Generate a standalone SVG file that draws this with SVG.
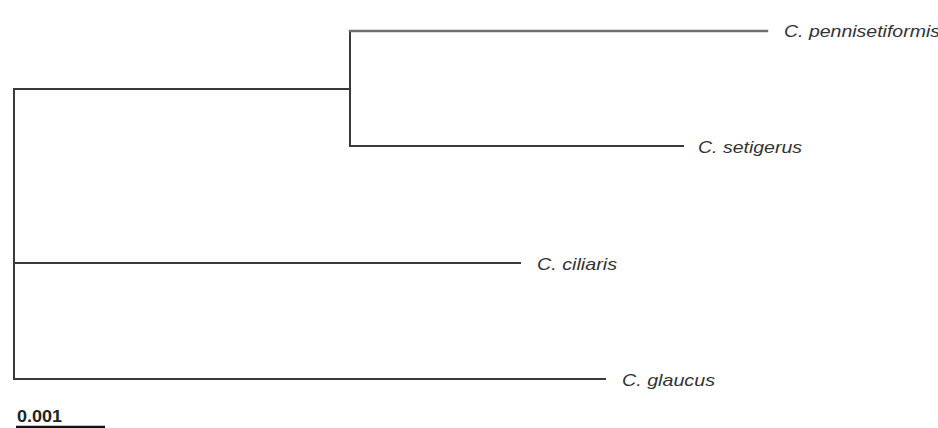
<svg xmlns="http://www.w3.org/2000/svg" width="938" height="428" viewBox="0 0 938 428">
  <style>
    .branch { stroke: #3a3a3a; stroke-width: 2; fill: none; stroke-linecap: square; }
    .light { stroke: #6e6e6e; stroke-width: 2.4; }
    .taxon { font-family: "Liberation Sans", Arial, sans-serif; font-style: italic; font-size: 17px; fill: #333; }
    .scale { font-family: "Liberation Sans", Arial, sans-serif; font-weight: bold; font-size: 16px; fill: #222; }
  </style>
  <rect width="938" height="428" fill="#ffffff"/>

  <!-- tree edges -->
  <g id="connectors">
    <!-- root -->
    <path class="branch" d="M14,89 V379"/>
    <path class="branch" d="M14,89 H350"/>
    <!-- inner clade -->
    <path class="branch" d="M350,31 V146"/>
    <path class="branch light" d="M350,31 H767"/>
    <path class="branch" d="M350,146 H683"/>
    <!-- root children -->
    <path class="branch" d="M14,263 H520"/>
    <path class="branch" d="M14,379 H605"/>
  </g>

  <g id="node-pennisetiformis">
    <text class="taxon" x="784" y="37" textLength="156" lengthAdjust="spacingAndGlyphs">C. pennisetiformis</text>
  </g>
  <g id="node-setigerus">
    <text class="taxon" x="698" y="153" textLength="104" lengthAdjust="spacingAndGlyphs">C. setigerus</text>
  </g>
  <g id="node-ciliaris">
    <text class="taxon" x="537" y="270" textLength="80" lengthAdjust="spacingAndGlyphs">C. ciliaris</text>
  </g>
  <g id="node-glaucus">
    <text class="taxon" x="622" y="386" textLength="93" lengthAdjust="spacingAndGlyphs">C. glaucus</text>
  </g>

  <!-- scale bar -->
  <g id="scale-bar">
    <text class="scale" x="17" y="422" textLength="45" lengthAdjust="spacingAndGlyphs">0.001</text>
    <path d="M16,427 H105" stroke="#111" stroke-width="2.5"/>
  </g>
</svg>
